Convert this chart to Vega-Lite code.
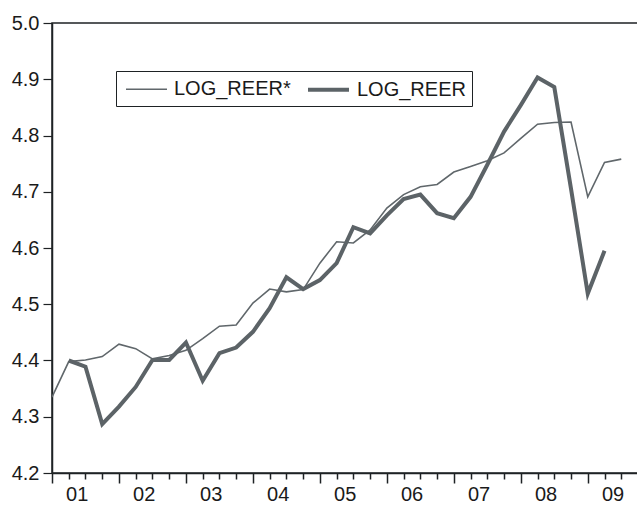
{
  "$schema": "https://vega.github.io/schema/vega-lite/v6.json",
  "autosize": "none",
  "padding": {"left": 52, "top": 23, "right": 0, "bottom": 32},
  "width": 586,
  "height": 450,
  "background": "white",
  "config": {
    "font": "Liberation Sans",
    "view": {"stroke": "#1e2224", "strokeWidth": 1.5}
  },
  "data": {
    "values": [
      {"q": 0, "series": "LOG_REER*", "value": 4.335},
      {"q": 1, "series": "LOG_REER*", "value": 4.398},
      {"q": 2, "series": "LOG_REER*", "value": 4.401},
      {"q": 3, "series": "LOG_REER*", "value": 4.407},
      {"q": 4, "series": "LOG_REER*", "value": 4.429},
      {"q": 5, "series": "LOG_REER*", "value": 4.421},
      {"q": 6, "series": "LOG_REER*", "value": 4.403},
      {"q": 7, "series": "LOG_REER*", "value": 4.409},
      {"q": 8, "series": "LOG_REER*", "value": 4.418},
      {"q": 9, "series": "LOG_REER*", "value": 4.439},
      {"q": 10, "series": "LOG_REER*", "value": 4.461},
      {"q": 11, "series": "LOG_REER*", "value": 4.463},
      {"q": 12, "series": "LOG_REER*", "value": 4.502},
      {"q": 13, "series": "LOG_REER*", "value": 4.527},
      {"q": 14, "series": "LOG_REER*", "value": 4.522},
      {"q": 15, "series": "LOG_REER*", "value": 4.526},
      {"q": 16, "series": "LOG_REER*", "value": 4.573},
      {"q": 17, "series": "LOG_REER*", "value": 4.611},
      {"q": 18, "series": "LOG_REER*", "value": 4.609},
      {"q": 19, "series": "LOG_REER*", "value": 4.632},
      {"q": 20, "series": "LOG_REER*", "value": 4.671},
      {"q": 21, "series": "LOG_REER*", "value": 4.695},
      {"q": 22, "series": "LOG_REER*", "value": 4.709},
      {"q": 23, "series": "LOG_REER*", "value": 4.713},
      {"q": 24, "series": "LOG_REER*", "value": 4.735},
      {"q": 25, "series": "LOG_REER*", "value": 4.745},
      {"q": 26, "series": "LOG_REER*", "value": 4.755},
      {"q": 27, "series": "LOG_REER*", "value": 4.769},
      {"q": 28, "series": "LOG_REER*", "value": 4.795},
      {"q": 29, "series": "LOG_REER*", "value": 4.820},
      {"q": 30, "series": "LOG_REER*", "value": 4.823},
      {"q": 31, "series": "LOG_REER*", "value": 4.824},
      {"q": 32, "series": "LOG_REER*", "value": 4.691},
      {"q": 33, "series": "LOG_REER*", "value": 4.752},
      {"q": 34, "series": "LOG_REER*", "value": 4.758},
      {"q": 1, "series": "LOG_REER", "value": 4.400},
      {"q": 2, "series": "LOG_REER", "value": 4.389},
      {"q": 3, "series": "LOG_REER", "value": 4.287},
      {"q": 4, "series": "LOG_REER", "value": 4.318},
      {"q": 5, "series": "LOG_REER", "value": 4.353},
      {"q": 6, "series": "LOG_REER", "value": 4.401},
      {"q": 7, "series": "LOG_REER", "value": 4.401},
      {"q": 8, "series": "LOG_REER", "value": 4.432},
      {"q": 9, "series": "LOG_REER", "value": 4.364},
      {"q": 10, "series": "LOG_REER", "value": 4.413},
      {"q": 11, "series": "LOG_REER", "value": 4.423},
      {"q": 12, "series": "LOG_REER", "value": 4.451},
      {"q": 13, "series": "LOG_REER", "value": 4.493},
      {"q": 14, "series": "LOG_REER", "value": 4.548},
      {"q": 15, "series": "LOG_REER", "value": 4.527},
      {"q": 16, "series": "LOG_REER", "value": 4.543},
      {"q": 17, "series": "LOG_REER", "value": 4.573},
      {"q": 18, "series": "LOG_REER", "value": 4.637},
      {"q": 19, "series": "LOG_REER", "value": 4.626},
      {"q": 20, "series": "LOG_REER", "value": 4.658},
      {"q": 21, "series": "LOG_REER", "value": 4.687},
      {"q": 22, "series": "LOG_REER", "value": 4.695},
      {"q": 23, "series": "LOG_REER", "value": 4.662},
      {"q": 24, "series": "LOG_REER", "value": 4.653},
      {"q": 25, "series": "LOG_REER", "value": 4.691},
      {"q": 26, "series": "LOG_REER", "value": 4.748},
      {"q": 27, "series": "LOG_REER", "value": 4.807},
      {"q": 28, "series": "LOG_REER", "value": 4.854},
      {"q": 29, "series": "LOG_REER", "value": 4.903},
      {"q": 30, "series": "LOG_REER", "value": 4.886},
      {"q": 31, "series": "LOG_REER", "value": 4.705},
      {"q": 32, "series": "LOG_REER", "value": 4.519},
      {"q": 33, "series": "LOG_REER", "value": 4.595}
    ]
  },
  "mark": {"type": "line", "strokeJoin": "miter", "clip": true},
  "encoding": {
    "x": {
      "field": "q",
      "type": "quantitative",
      "scale": {"domain": [0, 35], "nice": false, "zero": false},
      "axis": {
        "title": null,
        "grid": false,
        "values": [0,1,2,3,4,5,6,7,8,9,10,11,12,13,14,15,16,17,18,19,20,21,22,23,24,25,26,27,28,29,30,31,32,33,34,35],
        "labelExpr": "datum.value % 4 == 1 ? '0' + (1 + floor(datum.value / 4)) : ''",
        "labelOffset": 8,
        "labelFontSize": 20,
        "labelColor": "#1a1a1a",
        "labelPadding": 5,
        "labelFlush": false,
        "labelOverlap": false,
        "tickSize": {"condition": {"test": "datum.value % 4 == 0", "value": 10}, "value": 6},
        "tickColor": "#1e2224",
        "tickWidth": 1.5,
        "domainColor": "#1e2224",
        "domainWidth": 1.5
      }
    },
    "y": {
      "field": "value",
      "type": "quantitative",
      "scale": {"domain": [4.2, 5.0], "nice": false, "zero": false},
      "axis": {
        "title": null,
        "grid": false,
        "values": [4.2, 4.3, 4.4, 4.5, 4.6, 4.7, 4.8, 4.9, 5.0],
        "format": ".1f",
        "labelFontSize": 20,
        "labelColor": "#1a1a1a",
        "labelPadding": 4,
        "tickSize": 9,
        "tickColor": "#1e2224",
        "tickWidth": 1.2,
        "domainColor": "#1e2224",
        "domainWidth": 1.5
      }
    },
    "color": {
      "field": "series",
      "type": "nominal",
      "scale": {"domain": ["LOG_REER*", "LOG_REER"], "range": ["#60676b", "#5c6367"]},
      "legend": {
        "title": null,
        "orient": "none",
        "legendX": 64,
        "legendY": 48,
        "direction": "horizontal",
        "symbolType": "M-0.714,0H3.19",
        "symbolSize": 441,
        "labelFontSize": 20,
        "labelColor": "#1a1a1a",
        "labelOffset": 29,
        "columnPadding": 9,
        "padding": 6,
        "strokeColor": "#1e2224",
        "fillColor": "white"
      }
    },
    "strokeWidth": {
      "field": "series",
      "type": "nominal",
      "scale": {"domain": ["LOG_REER*", "LOG_REER"], "range": [1.6, 4]},
      "legend": {
        "title": null,
        "orient": "none",
        "legendX": 64,
        "legendY": 48,
        "direction": "horizontal",
        "symbolType": "M-0.714,0H3.19",
        "symbolSize": 441,
        "labelFontSize": 20,
        "labelColor": "#1a1a1a",
        "labelOffset": 29,
        "columnPadding": 9,
        "padding": 6,
        "strokeColor": "#1e2224",
        "fillColor": "white"
      }
    }
  }
}
